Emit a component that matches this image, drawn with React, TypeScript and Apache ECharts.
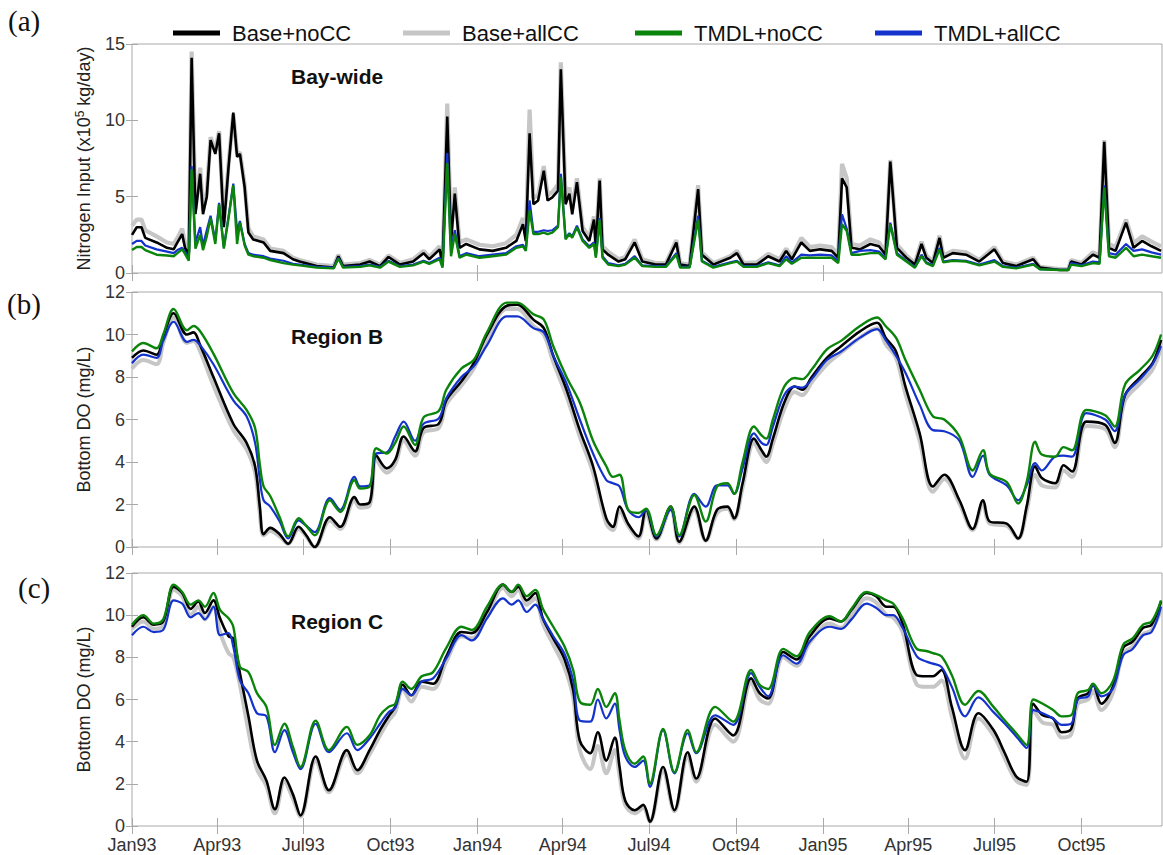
import React, { useEffect, useRef } from "react";
import * as echarts from "echarts";

// ---- x axis (days since 1 Jan 1993) ----
const xMaxDay = 1088;
const quarterTickDays = [0, 90, 181, 273, 365, 455, 546, 638, 730, 820, 911, 1003];
const quarterTickLabels = ["Jan93", "Apr93", "Jul93", "Oct93", "Jan94", "Apr94", "Jul94", "Oct94", "Jan95", "Apr95", "Jul95", "Oct95"];
const yearTickDays = [0, 365, 730];

const seriesNames = ["Base+noCC", "Base+allCC", "TMDL+noCC", "TMDL+allCC"];

// ---- panel (a): Bay-wide nitrogen input (x1e5 kg/day) ----
const aDays = [
  0, 5, 10, 14, 26, 37, 44, 48, 53, 56,
  60, 63, 67, 72, 75, 79, 83, 88, 92, 97,
  102, 107, 111, 114, 119, 123, 128, 139, 146, 160,
  170, 177, 195, 213, 218, 223, 241, 251, 262, 271,
  283, 297, 308, 314, 325, 328, 333, 337, 341, 346,
  353, 367, 381, 395, 406, 413, 416, 420, 424, 429,
  435, 439, 444, 450, 453, 458, 462, 465, 470, 476,
  483, 488, 490, 494, 497, 503, 514, 521, 531, 539,
  553, 564, 575, 579, 589, 598, 602, 614, 632, 639,
  646, 660, 672, 684, 691, 697, 707, 716, 727, 739,
  746, 750, 755, 760, 769, 780, 789, 796, 801, 808,
  818, 827, 834, 839, 846, 853, 857, 867, 881, 895,
  911, 920, 934, 952, 959, 980, 989, 992, 1003, 1015,
  1022, 1027, 1032, 1039, 1050, 1058, 1067, 1077, 1087,
];
const aBaseNoCC = [
  2.5, 3.0, 3.0, 2.3, 2.0, 1.65, 1.55, 2.0, 2.55, 1.65,
  1.2, 14.1, 3.85, 6.5, 3.85, 5.0, 8.7, 7.8, 9.15, 3.0,
  6.95, 10.5, 7.6, 7.8, 5.6, 2.65, 2.2, 2.0, 1.45, 1.3,
  0.9, 0.75, 0.45, 0.35, 1.1, 0.45, 0.55, 0.75, 0.45, 1.05,
  0.55, 0.75, 1.3, 0.9, 1.55, 0.55, 10.25, 2.1, 5.2, 1.65,
  1.9, 1.55, 1.45, 1.65, 2.1, 3.2, 2.1, 9.15, 4.5, 4.75,
  6.7, 4.75, 4.95, 5.4, 13.35, 4.5, 5.2, 3.85, 5.95, 2.75,
  2.1, 3.5, 1.65, 6.05, 1.55, 1.2, 0.75, 0.9, 2.0, 0.75,
  0.55, 0.55, 2.0, 0.55, 0.45, 5.5, 1.2, 0.55, 1.0, 1.3,
  0.55, 0.55, 1.1, 0.75, 1.45, 0.9, 2.0, 1.45, 1.55, 1.45,
  1.0, 6.2, 5.6, 1.65, 1.55, 1.9, 1.75, 1.2, 7.3, 1.65,
  1.0, 0.55, 1.9, 1.0, 0.65, 2.3, 1.0, 1.3, 1.2, 0.75,
  1.55, 0.65, 0.45, 0.9, 0.35, 0.2, 0.2, 0.75, 0.55, 1.2,
  1.0, 8.6, 1.65, 1.45, 3.3, 1.65, 2.1, 1.75, 1.45,
];
const aBaseAllCC = [
  3.1, 3.5, 3.5, 2.8, 2.4, 2.0, 1.9, 2.3, 2.9, 1.9,
  1.4, 14.5, 4.2, 6.9, 4.1, 5.3, 8.9, 8.0, 9.3, 3.3,
  7.2, 10.4, 7.8, 7.9, 5.8, 2.9, 2.4, 2.2, 1.6, 1.45,
  1.0, 0.85, 0.55, 0.45, 1.2, 0.55, 0.65, 0.85, 0.55, 1.15,
  0.65, 0.9, 1.45, 1.05, 1.75, 0.7, 11.1, 2.4, 5.6, 2.0,
  2.2, 1.85, 1.75, 1.95, 2.5, 3.6, 2.5, 10.7, 4.9, 5.1,
  7.0, 5.1, 5.3, 5.8, 13.8, 4.9, 5.6, 4.2, 6.2, 3.0,
  2.35, 3.7, 1.9, 6.2, 1.75, 1.4, 0.9, 1.05, 2.2, 0.9,
  0.65, 0.65, 2.15, 0.65, 0.55, 5.75, 1.35, 0.65, 1.1, 1.45,
  0.65, 0.7, 1.25, 0.9, 1.6, 1.05, 2.3, 1.7, 1.8, 1.7,
  1.2, 7.15, 6.2, 1.9, 1.8, 2.2, 2.0, 1.4, 7.4, 1.85,
  1.15, 0.65, 2.05, 1.15, 0.75, 2.45, 1.15, 1.45, 1.35, 0.85,
  1.7, 0.75, 0.55, 1.0, 0.4, 0.25, 0.25, 0.85, 0.65, 1.35,
  1.15, 8.7, 1.9, 1.7, 3.5, 1.95, 2.4, 2.05, 1.75,
];
const aTmdlNoCC = [
  1.5, 1.7, 1.7, 1.5, 1.2, 1.15, 1.1, 1.3, 1.55, 1.25,
  0.8, 6.8, 1.6, 2.5, 1.5, 2.4, 3.6, 1.9, 4.5, 1.6,
  3.6, 5.75, 1.9, 3.3, 1.8, 1.2, 1.1, 1.0, 0.85, 0.65,
  0.55, 0.5, 0.35, 0.3, 0.95, 0.35, 0.4, 0.5, 0.35, 0.75,
  0.4, 0.5, 0.75, 0.6, 0.9, 0.35, 7.2, 1.1, 2.55, 1.0,
  1.2, 1.0, 1.1, 1.2, 1.65, 1.75, 1.45, 4.1, 2.55, 2.55,
  2.65, 2.55, 2.65, 3.0, 6.3, 2.2, 2.55, 2.3, 3.0, 2.1,
  1.65, 1.9, 1.0, 3.5, 1.0, 0.55, 0.45, 0.55, 1.0, 0.45,
  0.4, 0.4, 1.2, 0.35, 0.35, 3.5, 0.75, 0.35, 0.65, 0.75,
  0.4, 0.4, 0.65, 0.45, 0.9, 0.6, 1.0, 1.0, 1.0, 1.0,
  0.65, 3.2, 2.75, 1.2, 1.2, 1.3, 1.3, 0.9, 3.2, 1.2,
  0.75, 0.35, 1.1, 0.65, 0.45, 1.55, 0.7, 0.8, 0.75, 0.5,
  0.75, 0.4, 0.3, 0.55, 0.25, 0.2, 0.2, 0.55, 0.45, 0.65,
  0.6, 5.6, 1.1, 1.0, 1.65, 1.1, 1.2, 1.1, 1.0,
];
const aTmdlAllCC = [
  1.9, 2.1, 2.1, 1.8, 1.55, 1.4, 1.3, 1.5, 1.65, 1.4,
  1.0, 7.0, 2.0, 3.0, 1.8, 2.8, 3.75, 2.1, 4.6, 1.7,
  3.7, 5.85, 2.75, 3.4, 1.9, 1.3, 1.2, 1.1, 0.95, 0.8,
  0.6, 0.55, 0.4, 0.35, 1.0, 0.4, 0.45, 0.55, 0.4, 0.8,
  0.45, 0.55, 0.8, 0.65, 1.0, 0.45, 7.85, 1.4, 2.8, 1.1,
  1.3, 1.1, 1.2, 1.3, 1.75, 1.85, 1.55, 4.75, 2.7, 2.7,
  2.8, 2.75, 2.8, 3.1, 6.5, 2.3, 2.6, 2.4, 3.1, 2.2,
  1.75, 2.0, 1.1, 3.6, 1.1, 0.65, 0.5, 0.6, 1.1, 0.5,
  0.45, 0.45, 1.3, 0.4, 0.4, 3.75, 0.8, 0.4, 0.7, 0.8,
  0.45, 0.45, 0.7, 0.5, 1.1, 0.7, 1.2, 1.15, 1.2, 1.15,
  0.8, 3.85, 2.9, 1.3, 1.45, 1.5, 1.4, 1.0, 3.3, 1.3,
  0.8, 0.4, 1.2, 0.7, 0.5, 1.65, 0.75, 0.85, 0.8, 0.55,
  0.85, 0.45, 0.35, 0.6, 0.25, 0.2, 0.2, 0.65, 0.5, 0.75,
  0.7, 5.75, 1.3, 1.2, 1.9, 1.45, 1.55, 1.35, 1.2,
];

// ---- panel (b): Region B bottom DO (mg/L) ----
const bDays = [
  0, 12, 26, 33, 44, 58, 65, 72, 86, 107,
  121, 130, 135, 139, 146, 156, 165, 176, 184, 193,
  209, 220, 235, 241, 251, 258, 269, 278, 287, 299,
  308, 324, 332, 348, 361, 375, 396, 407, 424, 435,
  445, 459, 473, 487, 501, 508, 515, 524, 535, 543,
  554, 569, 578, 594, 606, 618, 629, 636, 645, 657,
  665, 670, 677, 689, 700, 708, 718, 734, 749, 769,
  787, 796, 807, 817, 832, 846, 858, 874, 888, 899,
  906, 924, 936, 945, 954, 961, 975, 984, 993, 1008,
  1028, 1038, 1049, 1065, 1078, 1087,
];
const bBaseNoCC = [
  8.9, 9.25, 9.05, 9.9, 11.0, 10.0, 10.1, 9.5, 8.0, 5.8,
  4.9, 3.8, 1.9, 0.6, 0.9, 0.6, 0.15, 0.95, 0.55, 0.0,
  1.4, 0.95, 2.35, 2.0, 2.1, 4.3, 3.7, 4.1, 5.2, 4.5,
  5.6, 5.8, 6.9, 7.8, 8.65, 10.0, 11.35, 11.4, 10.7, 10.3,
  9.0, 7.4, 5.5, 3.8, 1.35, 0.95, 1.9, 1.1, 0.5, 1.75,
  0.4, 1.9, 0.25, 1.9, 0.3, 1.75, 1.9, 1.35, 3.0, 5.1,
  4.55, 4.25, 5.1, 6.8, 7.55, 7.4, 8.0, 8.9, 9.45, 10.15,
  10.55, 9.85, 9.2, 7.55, 5.35, 2.85, 3.4, 2.2, 0.85, 2.2,
  1.2, 1.1, 0.4, 1.9, 3.8, 3.25, 3.0, 3.85, 3.55, 5.9,
  5.75, 4.9, 7.15, 8.0, 8.65, 9.75,
];
const bBaseAllCC = [
  8.4, 8.8, 8.6, 9.6, 10.8, 9.6, 9.7, 9.2, 7.6, 5.5,
  4.6, 3.5, 1.6, 0.55, 0.75, 0.5, 0.15, 0.85, 0.5, 0.0,
  1.25, 0.85, 2.2, 1.85, 1.95, 4.1, 3.5, 3.9, 5.0, 4.3,
  5.4, 5.6, 6.7, 7.6, 8.4, 9.75, 11.2, 11.2, 10.4, 10.0,
  8.7, 7.1, 5.2, 3.5, 1.1, 0.8, 1.7, 1.0, 0.4, 1.6,
  0.35, 1.8, 0.2, 1.75, 0.3, 1.6, 1.8, 1.3, 2.8, 4.9,
  4.3, 4.0, 4.85, 6.5, 7.3, 7.15, 7.75, 8.6, 9.15, 9.85,
  10.3, 9.55, 8.9, 7.2, 5.0, 2.6, 3.2, 2.05, 0.8, 2.05,
  1.1, 1.0, 0.4, 1.7, 3.4, 2.9, 2.8, 3.6, 3.3, 5.7,
  5.55, 4.7, 6.9, 7.7, 8.35, 9.4,
];
const bTmdlNoCC = [
  9.2, 9.6, 9.35, 10.0, 11.2, 10.2, 10.4, 10.15, 9.1, 7.25,
  6.45, 5.6, 3.9, 2.85, 2.4, 1.4, 0.5, 1.35, 1.0, 0.55,
  2.2, 1.65, 3.15, 2.75, 2.85, 4.65, 4.4, 4.9, 5.67, 4.8,
  6.1, 6.4, 7.4, 8.4, 8.8, 10.1, 11.5, 11.5, 10.95, 10.7,
  9.45, 8.0, 6.8, 5.0, 3.8, 3.3, 3.4, 1.75, 1.6, 1.8,
  0.55, 1.9, 0.55, 2.45, 1.2, 2.85, 3.0, 2.5, 4.0, 5.67,
  5.25, 5.1, 6.0, 7.55, 7.95, 7.9, 8.35, 9.3, 9.7, 10.4,
  10.8, 10.4, 9.85, 8.8, 7.4, 6.15, 6.0, 5.2, 3.6, 4.55,
  3.45, 3.05, 2.05, 3.05, 4.95, 4.35, 4.25, 4.7, 4.55, 6.45,
  6.2, 5.67, 7.65, 8.35, 9.0, 10.0,
];
const bTmdlAllCC = [
  8.65, 9.05, 8.9, 9.7, 10.6, 9.65, 9.75, 9.5, 8.6, 6.9,
  6.15, 4.9, 3.2, 2.2, 1.9, 1.2, 0.4, 1.25, 1.0, 0.7,
  2.3, 1.75, 3.3, 2.85, 2.9, 4.4, 4.45, 5.2, 5.9, 5.0,
  5.8, 6.05, 7.0, 8.0, 8.5, 9.5, 10.85, 10.85, 10.3, 10.1,
  9.0, 7.7, 6.0, 4.4, 3.15, 3.0, 2.85, 1.75, 1.4, 1.75,
  0.5, 1.75, 0.5, 2.5, 1.9, 2.9, 2.9, 2.5, 3.7, 5.35,
  4.9, 4.8, 5.67, 7.15, 7.55, 7.5, 7.9, 8.8, 9.2, 9.85,
  10.25, 9.75, 9.0, 8.2, 6.7, 5.5, 5.45, 5.0, 3.3, 4.3,
  3.4, 2.9, 2.2, 2.9, 3.95, 3.6, 4.25, 4.3, 4.25, 6.3,
  6.0, 5.45, 7.15, 7.9, 8.6, 9.45,
];

// ---- panel (c): Region C bottom DO (mg/L) ----
const cDays = [
  0, 12, 23, 33, 44, 53, 62, 70, 77, 86,
  93, 102, 107, 114, 123, 132, 142, 151, 161, 170,
  178, 194, 208, 227, 238, 251, 262, 271, 278, 286,
  295, 306, 318, 332, 348, 359, 375, 392, 401, 408,
  417, 426, 434, 445, 457, 466, 473, 484, 492, 501,
  510, 515, 521, 531, 540, 547, 561, 573, 587, 596,
  616, 635, 654, 663, 672, 688, 702, 716, 737, 749,
  760, 776, 786, 797, 804, 814, 829, 839, 846, 855,
  866, 880, 894, 910, 922, 934, 945, 952, 962, 973,
  982, 992, 999, 1010, 1015, 1024, 1036, 1047, 1057, 1068,
  1077, 1087,
];
const cBaseNoCC = [
  9.45, 9.9, 9.55, 9.7, 11.35, 11.05, 10.3, 10.65, 10.1, 10.7,
  9.85, 9.0, 8.9, 7.25, 5.2, 3.1, 2.15, 0.8, 2.3, 1.5,
  0.5, 3.3, 1.7, 3.6, 2.65, 3.6, 4.55, 5.2, 5.65, 6.7,
  6.2, 6.85, 6.75, 8.05, 9.2, 9.15, 10.15, 11.45, 11.1, 11.35,
  10.7, 11.05, 9.85, 8.9, 7.9, 6.45, 4.05, 3.45, 4.45, 3.1,
  4.2, 2.8, 1.2, 0.75, 1.0, 0.2, 2.8, 0.75, 3.5, 2.25,
  5.1, 4.3, 7.0, 6.3, 6.05, 8.25, 7.9, 9.0, 9.85, 9.7,
  10.25, 11.05, 10.9, 10.4, 10.4, 9.6, 7.15, 7.1, 7.1, 7.4,
  5.65, 3.6, 5.35, 4.55, 3.45, 2.35, 2.1, 5.8, 5.25, 5.1,
  4.45, 4.6, 6.05, 6.3, 6.7, 5.8, 6.6, 8.45, 8.75, 9.4,
  9.55, 10.65,
];
const cBaseAllCC = [
  9.35, 9.7, 9.35, 9.5, 11.2, 10.9, 10.0, 10.4, 9.8, 10.4,
  9.2, 8.2, 8.0, 6.7, 4.5, 2.7, 1.9, 0.6, 2.1, 1.3,
  0.45, 3.1, 1.6, 3.4, 2.5, 3.4, 4.3, 5.0, 5.4, 6.5,
  5.9, 6.6, 6.5, 7.8, 9.0, 8.9, 9.95, 11.3, 10.9, 11.2,
  10.5, 10.8, 9.6, 8.6, 7.5, 6.1, 3.6, 2.7, 3.8, 2.5,
  3.6, 2.4, 1.0, 0.6, 0.85, 0.2, 2.6, 0.7, 3.3, 2.1,
  4.8, 4.0, 6.8, 6.0, 5.8, 8.0, 7.6, 8.7, 9.6, 9.4,
  10.0, 10.8, 10.6, 10.0, 9.9, 9.2, 6.7, 6.6, 6.6, 6.9,
  5.2, 3.2, 5.1, 4.3, 3.2, 2.15, 1.95, 5.5, 4.9, 4.8,
  4.2, 4.35, 5.8, 6.0, 6.4, 5.5, 6.3, 8.2, 8.5, 9.1,
  9.3, 10.3,
];
const cTmdlNoCC = [
  9.55, 10.0, 9.6, 9.8, 11.45, 11.1, 10.5, 10.7, 10.4, 11.05,
  10.25, 9.85, 9.45, 7.55, 7.3, 6.3, 5.65, 3.85, 4.85, 3.75,
  2.8, 5.0, 3.6, 4.7, 3.85, 4.3, 5.25, 5.65, 5.8, 6.85,
  6.5, 7.1, 7.3, 8.45, 9.45, 9.3, 10.4, 11.45, 11.1, 11.45,
  10.9, 11.2, 10.3, 9.45, 8.5, 7.4, 5.9, 5.75, 6.5, 5.65,
  6.3, 5.0, 3.6, 2.95, 3.3, 2.0, 4.6, 2.55, 4.55, 3.5,
  5.65, 4.95, 7.4, 6.7, 6.5, 8.4, 8.05, 9.2, 9.95, 9.7,
  10.3, 11.1, 10.95, 10.7, 10.55, 9.85, 8.4, 8.3, 8.2, 8.05,
  7.15, 5.75, 6.4, 5.65, 5.0, 4.4, 3.85, 6.0, 5.8, 5.5,
  5.2, 5.25, 6.3, 6.45, 6.75, 6.3, 6.85, 8.6, 8.9, 9.55,
  9.7, 10.7,
];
const cTmdlAllCC = [
  9.05, 9.45, 9.2, 9.3, 10.7, 10.55, 9.9, 10.1, 9.8, 10.4,
  9.05, 9.15, 8.5, 6.9, 6.3, 5.35, 5.2, 3.5, 4.55, 3.5,
  2.7, 4.85, 3.5, 4.4, 3.6, 4.15, 4.85, 5.4, 5.6, 6.5,
  6.2, 6.85, 7.0, 7.95, 9.05, 8.8, 9.85, 10.8, 10.5, 10.7,
  10.15, 10.5, 9.85, 9.0, 8.15, 6.9, 5.0, 4.95, 6.0, 5.1,
  5.8, 4.55, 3.3, 2.8, 3.1, 1.85, 4.55, 2.5, 4.4, 3.45,
  5.25, 4.8, 7.25, 6.6, 6.15, 8.1, 7.7, 8.75, 9.45, 9.35,
  9.8, 10.55, 10.35, 10.0, 10.0, 9.4, 8.05, 7.8, 7.7, 7.55,
  6.6, 5.2, 6.1, 5.4, 4.85, 4.25, 3.7, 5.5, 5.35, 5.1,
  4.8, 4.85, 6.0, 6.15, 6.7, 6.15, 6.5, 8.1, 8.4, 9.05,
  9.2, 10.4,
];

const panelTitles = ["Bay-wide", "Region B", "Region C"];
const panelLetters = ["(a)", "(b)", "(c)"];

// ---- styles ----
const FONT = "Liberation Sans, Arial, Helvetica, sans-serif";
const colors = ["#000000", "#c6c6c6", "#0b840b", "#1433cc"];
const widthsA = [2.6, 4.2, 2.4, 2.2];
const widthsDO = [2.6, 4.0, 2.4, 2.2];
const borderColor = "#a9a9a9";
const labelColor = "#333333";

const grids = [
  { left: 132, top: 44, width: 1030, height: 229 },
  { left: 132, top: 292, width: 1030, height: 255 },
  { left: 132, top: 573, width: 1030, height: 253 },
];

function zip(days: number[], vals: number[]) {
  return days.map((d, i) => [d, vals[i]]);
}

export default function App() {
  const ref = useRef<HTMLDivElement>(null);

  useEffect(() => {
    if (!ref.current) return;
    const chart = echarts.init(ref.current, undefined, { renderer: "svg" });

    const panels = [
      { days: aDays, vals: [aBaseNoCC, aBaseAllCC, aTmdlNoCC, aTmdlAllCC], widths: widthsA, smooth: false },
      { days: bDays, vals: [bBaseNoCC, bBaseAllCC, bTmdlNoCC, bTmdlAllCC], widths: widthsDO, smooth: 0.35 },
      { days: cDays, vals: [cBaseNoCC, cBaseAllCC, cTmdlNoCC, cTmdlAllCC], widths: widthsDO, smooth: 0.35 },
    ];

    const xAxes: any[] = [];
    const yAxes: any[] = [];
    grids.forEach((_, gi) => {
      const ticks = gi === 0 ? yearTickDays : quarterTickDays;
      const base = {
        type: "value",
        gridIndex: gi,
        min: 0,
        max: xMaxDay,
        axisLine: { show: false },
        splitLine: { show: false },
        axisTick: { show: true, inside: true, length: 8, customValues: ticks, lineStyle: { color: borderColor, width: 1 } },
      };
      xAxes.push({
        ...base,
        position: "bottom",
        axisLabel: {
          show: gi === 2,
          customValues: quarterTickDays,
          formatter: (v: number) => {
            const i = quarterTickDays.indexOf(Math.round(v));
            return i >= 0 ? quarterTickLabels[i] : "";
          },
          fontSize: 18,
          fontFamily: FONT,
          color: labelColor,
          margin: 10,
        },
      });
      xAxes.push({ ...base, position: "top", axisLabel: { show: false } });

      const yBase = gi === 0 ? { min: 0, max: 15, interval: 5 } : { min: 0, max: 12, interval: 2 };
      const yCommon = {
        type: "value",
        gridIndex: gi,
        ...yBase,
        axisLine: { show: false },
        splitLine: { show: false },
        axisTick: { show: true, inside: true, length: 6, lineStyle: { color: borderColor, width: 1 } },
      };
      yAxes.push({
        ...yCommon,
        position: "left",
        axisLabel: { fontSize: 18, fontFamily: FONT, color: labelColor, margin: 7 },
        name: gi === 0 ? "Nitrogen Input (x10{sup|5} kg/day)" : "Bottom DO (mg/L)",
        nameLocation: "middle",
        nameRotate: 90,
        nameGap: 38,
        nameTextStyle: {
          fontSize: 18,
          fontFamily: FONT,
          color: "#222222",
          lineHeight: 20,
          rich: { sup: { fontSize: 12, fontFamily: FONT, color: "#222222", verticalAlign: "top", lineHeight: 20, padding: [0, 0, 6, 0] } },
        },
      });
      yAxes.push({ ...yCommon, position: "right", axisLabel: { show: false } });
    });

    const series: any[] = [];
    panels.forEach((p, gi) => {
      // draw order: Base+allCC (gray) under Base+noCC, then TMDL+allCC, TMDL+noCC on top
      const order = [1, 0, 3, 2];
      order.forEach((si, k) => {
        series.push({
          type: "line",
          name: seriesNames[si],
          xAxisIndex: gi * 2,
          yAxisIndex: gi * 2,
          data: zip(p.days, p.vals[si]),
          showSymbol: false,
          symbol: "none",
          smooth: p.smooth,
          lineStyle: { color: colors[si], width: p.widths[si] },
          itemStyle: { color: colors[si] },
          z: 2 + k,
          silent: true,
        });
      });
    });

    const legendLefts = [173, 403, 635, 875];
    const legends = seriesNames.map((n, i) => ({
      data: [n],
      left: legendLefts[i],
      top: 22,
      padding: 0,
      icon: "rect",
      itemWidth: 47,
      itemHeight: 5,
      selectedMode: false,
      textStyle: { fontSize: 22, fontFamily: FONT, color: "#111111", padding: [0, 0, 0, 7] },
    }));

    const titleTops = [66, 326, 611];
    const titles = panelTitles.map((t, i) => ({
      text: t,
      left: 291,
      top: titleTops[i],
      padding: 0,
      textStyle: { fontSize: 21, fontWeight: "bold", fontFamily: FONT, color: "#111111" },
    }));

    const letterPos = [
      { x: 8, y: 6 },
      { x: 7, y: 289 },
      { x: 18, y: 573 },
    ];
    const graphics = panelLetters.map((l, i) => ({
      type: "text",
      left: letterPos[i].x,
      top: letterPos[i].y,
      style: { text: l, fontSize: 29, fontFamily: "Liberation Serif, Times New Roman, serif", fill: "#111111" },
    }));

    chart.setOption({
      animation: false,
      backgroundColor: "#ffffff",
      title: titles,
      legend: legends,
      grid: grids.map((g) => ({ ...g, show: true, borderColor, borderWidth: 1, backgroundColor: "transparent" })),
      xAxis: xAxes,
      yAxis: yAxes,
      series,
      graphic: graphics,
    });

    return () => chart.dispose();
  }, []);

  return (
    <div
      ref={ref}
      style={{ position: "fixed", left: 0, top: 0, width: 1163, height: 855, background: "#fff" }}
    />
  );
}
